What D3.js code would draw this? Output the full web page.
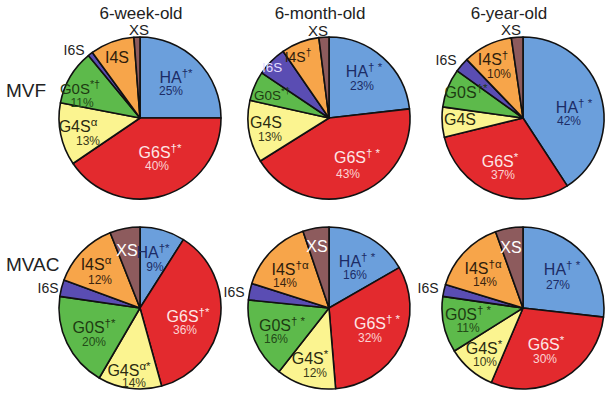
<!DOCTYPE html>
<html>
<head>
<meta charset="utf-8">
<script src="https://cdn.jsdelivr.net/npm/d3@7"></script>
<style>
  html, body { margin: 0; padding: 0; background: #fff; }
  svg { display: block; }
  text { font-family: "Liberation Sans", Arial, Helvetica, sans-serif; }
</style>
</head>
<body>
<svg id="chart" width="614" height="404"></svg>
<script>
// ---------------- DATA ----------------
const categories = ["HA", "G6S", "G4S", "G0S", "I6S", "I4S", "XS"];
const ages = ["6-week-old", "6-month-old", "6-year-old"];
const groups = ["MVF", "MVAC"];

// slice shares
const mvfWeek   = [25.0, 40.5, 12.5, 11.0, 1.0, 8.8, 1.2];
const mvfMonth  = [23.2, 42.9, 12.4, 5.9, 6.0, 7.6, 2.0];
const mvfYear   = [40.8, 30.4, 6.0, 7.7, 2.9, 9.9, 2.3];
const mvacWeek  = [9.0, 36.7, 12.7, 18.9, 3.3, 13.4, 6.0];
const mvacMonth = [16.7, 32.0, 11.9, 16.0, 3.3, 14.9, 5.2];
const mvacYear  = [26.8, 29.6, 9.7, 11.2, 2.4, 14.8, 5.5];

// printed percentage labels
const pctMvfWeek   = ["25%", "40%", "13%", "11%", "", "", ""];
const pctMvfMonth  = ["23%", "43%", "13%", "", "", "", ""];
const pctMvfYear   = ["42%", "37%", "", "", "", "10%", ""];
const pctMvacWeek  = ["9%", "36%", "14%", "20%", "", "12%", ""];
const pctMvacMonth = ["16%", "32%", "12%", "16%", "", "14%", ""];
const pctMvacYear  = ["27%", "30%", "10%", "11%", "", "14%", ""];

// significance marks (superscripts)
const supMvfWeek   = ["†*", "†*", "α", "*†", "", "", ""];
const supMvfMonth  = ["† *", "† *", "", "*†", "", "†", ""];
const supMvfYear   = ["† *", "*", "", "†*", "", "†", ""];
const supMvacWeek  = ["†*", "†*", "α*", "†*", "", "α", ""];
const supMvacMonth = ["† *", "† *", "*", "† *", "", "†α", ""];
const supMvacYear  = ["† *", "*", "*", "† *", "", "†α", ""];

// ---------------- STYLE / LAYOUT ----------------
const sliceColors = ["#6b9fdc", "#e32a2e", "#fbf490", "#5dba4b", "#5a4db3", "#f7a54a", "#8d5b5d"];
const nameColors  = ["#1c2c66", "#fde6e6", "#2a2a10", "#1d3a12", "#222", "#2e1c0c", "#222"];
const pctColors   = ["#1c2c66", "#fbd3d3", "#3a3a18", "#234a18", "#222", "#3a2410", "#222"];

const W = 614, H = 404, R = 81;
const colX = d3.scaleOrdinal().domain(ages).range([140, 329, 523]);
const rowY = d3.scaleOrdinal().domain(groups).range([118, 308]);

// label offsets from pie centre: name [dx,dy], pct [dx,dy]; optional colour / size override
const labelLayouts = [
  { // MVF 6-week
    HA: {n: [36, -35], p: [31, -23]},
    G6S: {n: [20, 40], p: [17, 52]},
    G4S: {n: [-62, 14], p: [-52, 27]},
    G0S: {n: [-60, -24], p: [-58, -11], size: 15},
    I4S: {n: [-23, -55]},
    I6S: {n: [-66, -63], out: true},
    XS: {n: [-1, -83], out: true}
  },
  { // MVF 6-month
    HA: {n: [35, -41], p: [33, -28]},
    G6S: {n: [28, 45], p: [19, 60]},
    G4S: {n: [-63, 10], p: [-59, 23]},
    G0S: {n: [-57, -18], size: 13.5},
    I6S: {n: [-57, -46], color: "#e2ddff", size: 13.5},
    I4S: {n: [-31, -56], size: 14},
    XS: {n: [-11, -82], out: true}
  },
  { // MVF 6-year
    HA: {n: [51, -5], p: [46, 7]},
    G6S: {n: [-23, 49], p: [-20, 61]},
    G4S: {n: [-63, 7]},
    G0S: {n: [-57, -20]},
    I4S: {n: [-30, -53], p: [-24, -40]},
    I6S: {n: [-77, -53], out: true},
    XS: {n: [-12, -83], out: true}
  },
  { // MVAC 6-week
    HA: {n: [13, -50], p: [15, -37]},
    G6S: {n: [48, 14], p: [45, 26]},
    G4S: {n: [-11, 68], p: [-6, 79]},
    G0S: {n: [-46, 25], p: [-46, 38]},
    I4S: {n: [-44, -38], p: [-40, -24]},
    I6S: {n: [-92, -15], out: true},
    XS: {n: [-13, -52], color: "#ffffff"}
  },
  { // MVAC 6-month
    HA: {n: [28, -41], p: [26, -29]},
    G6S: {n: [48, 21], p: [41, 34]},
    G4S: {n: [-19, 56], p: [-14, 69]},
    G0S: {n: [-47, 23], p: [-53, 35]},
    I4S: {n: [-39, -33], p: [-44, -21]},
    I6S: {n: [-95, -11], out: true},
    XS: {n: [-12, -56], color: "#ffffff"}
  },
  { // MVAC 6-year
    HA: {n: [39, -33], p: [35, -19]},
    G6S: {n: [23, 42], p: [22, 55]},
    G4S: {n: [-39, 46], p: [-38, 58]},
    G0S: {n: [-55, 12], p: [-55, 24]},
    I4S: {n: [-40, -34], p: [-38, -22]},
    I6S: {n: [-95, -15], out: true},
    XS: {n: [-12, -55], color: "#ffffff"}
  }
];

const panels = [
  {group: "MVF",  age: ages[0], values: mvfWeek,   pct: pctMvfWeek,   sup: supMvfWeek},
  {group: "MVF",  age: ages[1], values: mvfMonth,  pct: pctMvfMonth,  sup: supMvfMonth},
  {group: "MVF",  age: ages[2], values: mvfYear,   pct: pctMvfYear,   sup: supMvfYear},
  {group: "MVAC", age: ages[0], values: mvacWeek,  pct: pctMvacWeek,  sup: supMvacWeek},
  {group: "MVAC", age: ages[1], values: mvacMonth, pct: pctMvacMonth, sup: supMvacMonth},
  {group: "MVAC", age: ages[2], values: mvacYear,  pct: pctMvacYear,  sup: supMvacYear}
];

// ---------------- DRAW ----------------
const svg = d3.select("#chart");
svg.append("rect").attr("width", W).attr("height", H).attr("fill", "#fff");

const pie = d3.pie().sort(null).value(d => d.value);
const arc = d3.arc().innerRadius(0).outerRadius(R);

// column titles
svg.selectAll("text.title").data(ages).join("text")
  .attr("class", "title")
  .attr("x", d => colX(d) + [1, -9, -14][ages.indexOf(d)])
  .attr("y", 19)
  .attr("text-anchor", "middle")
  .attr("font-size", 17)
  .attr("fill", "#222")
  .text(d => d);

// row labels
svg.selectAll("text.rowlab").data(groups).join("text")
  .attr("class", "rowlab")
  .attr("x", 6)
  .attr("y", d => rowY(d) + [-21, -37][groups.indexOf(d)])
  .attr("font-size", 19)
  .attr("fill", "#222")
  .text(d => d);

panels.forEach((p, i) => {
  const cx = colX(p.age), cy = rowY(p.group);
  const g = svg.append("g").attr("transform", `translate(${cx},${cy})`);
  const data = categories.map((c, k) => ({cat: c, value: p.values[k], pct: p.pct[k], sup: p.sup[k], k}));
  g.selectAll("path").data(pie(data)).join("path")
    .attr("d", arc)
    .attr("fill", d => sliceColors[d.data.k])
    .attr("stroke", "#111")
    .attr("stroke-width", 1.6)
    .attr("stroke-linejoin", "round");

  const lay = labelLayouts[i];
  data.forEach(d => {
    const L = lay[d.cat];
    if (!L) return;
    const fs = L.size || (L.out ? (d.cat === "XS" ? 15 : 14) : 16);
    const t = g.append("text")
      .attr("x", L.n[0]).attr("y", L.n[1])
      .attr("text-anchor", "middle")
      .attr("font-size", fs)
      .attr("fill", L.out ? "#222" : (L.color || nameColors[d.k]));
    t.append("tspan").text(d.cat);
    if (d.sup) {
      t.append("tspan").attr("dy", -6).attr("font-size", fs * 0.72).text(d.sup);
    }
    if (L.p && d.pct) {
      g.append("text")
        .attr("x", L.p[0]).attr("y", L.p[1])
        .attr("text-anchor", "middle")
        .attr("font-size", 12)
        .attr("fill", pctColors[d.k])
        .text(d.pct);
    }
  });
});
</script>
</body>
</html>
